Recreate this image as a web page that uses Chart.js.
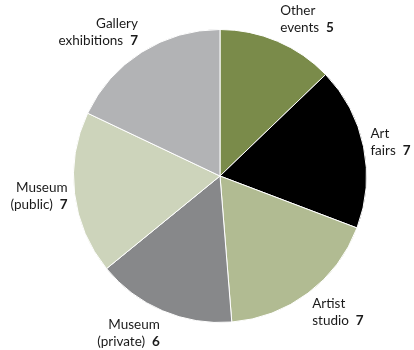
<!DOCTYPE html>
<html lang="en">
<head>
  <meta charset="UTF-8" />
  <title>Where art is bought</title>
  <script src="https://cdn.jsdelivr.net/npm/chart.js"></script>
  <style>
    html, body {
      margin: 0;
      padding: 0;
      background: #fff;
    }
    #wrap {
      width: 414px;
      height: 350px;
      position: relative;
    }
  </style>
</head>
<body>
  <div id="wrap">
    <canvas id="pieChart"></canvas>
  </div>

  <script>
    // categories, split in two lines as in the picture
    const categories = [
      ["Other", "events"],
      ["Art", "fairs"],
      ["Artist", "studio"],
      ["Museum", "(private)"],
      ["Museum", "(public)"],
      ["Gallery", "exhibitions"]
    ];
    const values = [5, 7, 7, 6, 7, 7];
    const colors = ["#7a8b4a", "#000000", "#b1bb92", "#87888a", "#cdd4bb", "#b2b3b5"];

    const FONT = "Lato, 'Open Sans', sans-serif";
    const FONT_SIZE = 13.5;
    const LINE_H = 17;
    const GAP = 7;

    // etiquetas fuera del pastel
    const outsideLabels = {
      id: "outsideLabels",
      afterDraw(chart) {
        const ctx = chart.ctx;
        const meta = chart.getDatasetMeta(0);
        ctx.save();
        ctx.fillStyle = "#1a1a1a";
        ctx.textBaseline = "middle";
        meta.data.forEach((arc, i) => {
          const p = arc.getProps(["x", "y", "startAngle", "endAngle", "outerRadius"], true);
          const mid = (p.startAngle + p.endAngle) / 2;
          const r = p.outerRadius + GAP;
          const ax = p.x + Math.cos(mid) * r;
          const ay = p.y + Math.sin(mid) * r;
          const h = LINE_H * 2;
          const top = ay - h * (1 - Math.sin(mid)) / 2;
          const rightSide = Math.cos(mid) >= 0;

          const [line1, line2] = categories[i];
          const val = String(values[i]);

          ctx.font = `${FONT_SIZE}px ${FONT}`;
          const w1 = ctx.measureText(line1).width;
          const w2a = ctx.measureText(line2 + "  ").width;
          ctx.font = `bold ${FONT_SIZE}px ${FONT}`;
          const w2b = ctx.measureText(val).width;
          const w2 = w2a + w2b;

          const y1 = top + LINE_H / 2;
          const y2 = y1 + LINE_H;
          const x1 = rightSide ? ax : ax - w1;
          const x2 = rightSide ? ax : ax - w2;

          ctx.textAlign = "left";
          ctx.font = `${FONT_SIZE}px ${FONT}`;
          ctx.fillText(line1, x1, y1);
          ctx.fillText(line2, x2, y2);
          ctx.font = `bold ${FONT_SIZE}px ${FONT}`;
          ctx.fillText(val, x2 + w2a, y2);
        });
        ctx.restore();
      }
    };

    const ctx = document.getElementById("pieChart").getContext("2d");

    new Chart(ctx, {
      type: "pie",
      data: {
        labels: categories,
        datasets: [{
          data: values,
          backgroundColor: colors,
          borderColor: "#ffffff",
          borderWidth: 1
        }]
      },
      options: {
        responsive: true,
        maintainAspectRatio: false,
        animation: false,
        layout: {
          padding: { top: 29, bottom: 27, left: 73, right: 47 }
        },
        plugins: {
          legend: { display: false },
          tooltip: { enabled: false }
        }
      },
      plugins: [outsideLabels]
    });
  </script>
</body>
</html>
